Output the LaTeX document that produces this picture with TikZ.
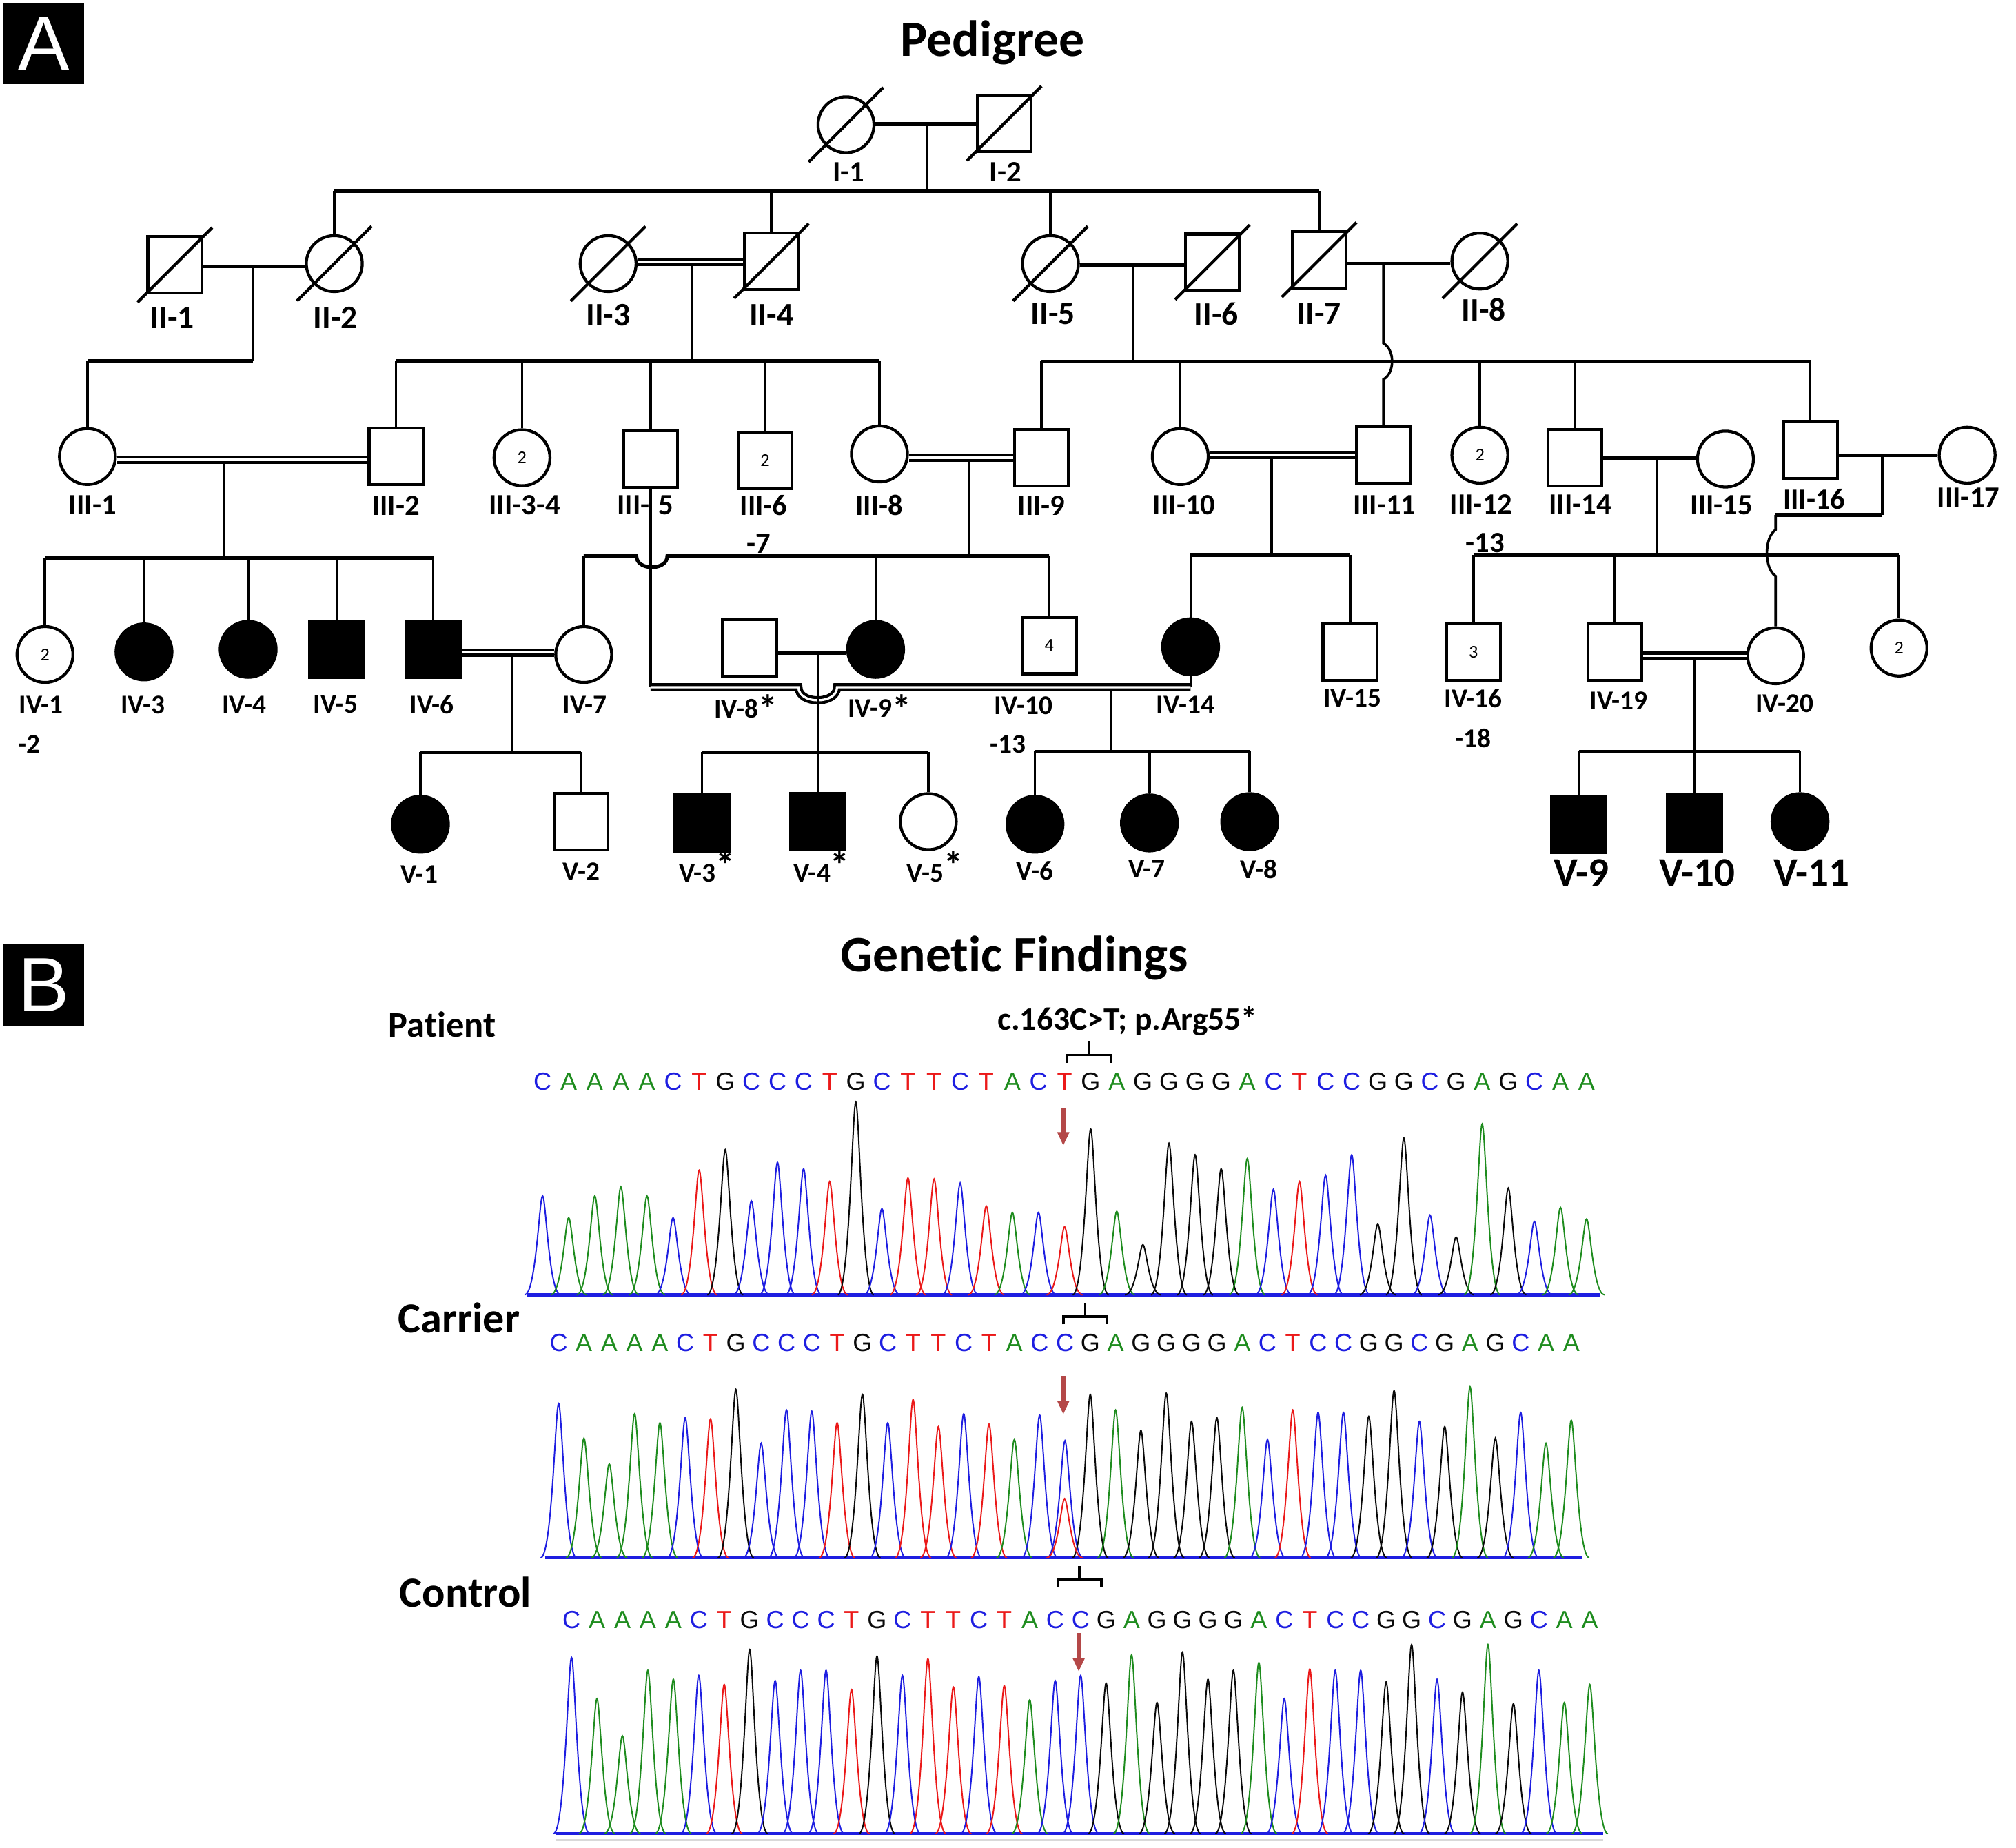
\documentclass[tikz,border=0pt]{standalone}
\usepackage{fontspec}
\setmainfont{Carlito}[Ligatures=NoCommon]
\newfontfamily\seqfont{Liberation Sans}
\usetikzlibrary{
%    positioning,
    arrows.meta
}
\definecolor{baseA}{RGB}{30,140,30}
\definecolor{baseC}{RGB}{30,30,225}
\definecolor{baseG}{RGB}{10,10,10}
\definecolor{baseT}{RGB}{235,25,25}
\definecolor{mutred}{RGB}{180,72,72}
\newcommand{\deceased}[1]{\draw[line width = 1.3pt] (#1.center) ++(-29, 29) -- ++(58, -58);}
\newcommand{\starmark}[1]{\smash{\raisebox{#1}{\fontsize{17}{17}\selectfont *}}}

\begin{document}
\begin{tikzpicture}
        [
            x = 0.02cm, y = -0.02cm,
            male/.style = {draw, rectangle, line width = 1.3pt, minimum width = 0.84cm, minimum height = 0.88cm, inner sep = 0pt, font = \fontsize{8}{8}\selectfont},
            female/.style = {draw, circle, line width = 1.3pt, minimum size = 0.87cm, inner sep = 0pt, font = \fontsize{8}{8}\selectfont},
            aff/.style = {fill = black},
            ln/.style = {line width = 1.1pt},
            hl/.style = {line width = 1.6pt},
            dbl/.style = {line width = 1.3pt, double = white, double distance = 1pt},
            labI/.style = {font = \bfseries\fontsize{13}{13}\selectfont, inner sep = 0pt},
            labII/.style = {font = \bfseries\fontsize{14.5}{14.5}\selectfont, inner sep = 0pt},
            labIII/.style = {font = \bfseries\fontsize{13}{13}\selectfont, inner sep = 0pt},
            labIV/.style = {font = \bfseries\fontsize{12}{12}\selectfont, inner sep = 0pt},
            labV/.style = {font = \bfseries\fontsize{18}{18}\selectfont, inner sep = 0pt},
            panel/.style = {fill = black, text = white, minimum size = 1.26cm, inner sep = 0pt, font = \seqfont\fontsize{34}{34}\selectfont},
            title/.style = {font = \bfseries\fontsize{22.5}{22.5}\selectfont, inner sep = 0pt},
            rowlab/.style = {font = \bfseries\fontsize{19}{19}\selectfont, inner sep = 0pt},
            seq/.style = {font = \seqfont\fontsize{11}{11}\selectfont, inner sep = 0pt},
            trace/.style = {line width = 0.6pt},
            trackline/.style = {draw = baseC, line width = 1.4pt},
            mut/.style = {draw = mutred, line width = 1.8pt, -{Triangle[length = 6pt, width = 5pt]}},
            brk/.style = {line width = 1.1pt}
        ]
        \fill[white] (0, 0) rectangle (1568, 1437);
        \useasboundingbox (0, 0) rectangle (1568, 1437);

        \node[panel] (pA) at (34, 34) {A};
        \node[panel] (pB) at (34, 766) {B};
        \node[title] (tA) at (772, 33) {Pedigree};
        \node[title] (tB) at (789, 745) {Genetic Findings};

        \node[female] (I1) at (658, 97) {};
        \node[male] (I2) at (781, 96) {};

        \node[male] (II1) at (136, 206) {};
        \node[female] (II2) at (260, 205) {};
        \node[female] (II3) at (473, 205) {};
        \node[male] (II4) at (600, 203) {};
        \node[female] (II5) at (817, 205) {};
        \node[male] (II6) at (943, 204) {};
        \node[male] (II7) at (1026, 202) {};
        \node[female] (II8) at (1151, 203) {};

        \node[female] (III1) at (68, 355) {};
        \node[male] (III2) at (308, 355) {};
        \node[female] (III34) at (406, 356) {2};
        \node[male] (III5) at (506, 357) {};
        \node[male] (III6) at (595, 358) {2};
        \node[female] (III8) at (684, 353) {};
        \node[male] (III9) at (810, 356) {};
        \node[female] (III10) at (918, 355) {};
        \node[male] (III11) at (1076, 354) {};
        \node[female] (III12) at (1151, 354) {2};
        \node[male] (III14) at (1225, 356) {};
        \node[female] (III15) at (1342, 357) {};
        \node[male] (III16) at (1408, 350) {};
        \node[female] (III17) at (1530, 354) {};

        \node[female] (IV1) at (35, 509) {2};
        \node[female, aff] (IV3) at (112, 507) {};
        \node[female, aff] (IV4) at (193, 505) {};
        \node[male, aff] (IV5) at (262, 505) {};
        \node[male, aff] (IV6) at (337, 505) {};
        \node[female] (IV7) at (454, 509) {};
        \node[male] (IV8) at (583, 504) {};
        \node[female, aff] (IV9) at (681, 505) {};
        \node[male] (IV10) at (816, 502) {4};
        \node[female, aff] (IV14) at (926, 503) {};
        \node[male] (IV15) at (1050, 507) {};
        \node[male] (IV16) at (1146, 507) {3};
        \node[male] (IV19) at (1256, 507) {};
        \node[female] (IV20) at (1381, 510) {};
        \node[female] (IVtwo) at (1477, 504) {2};

        \node[female, aff] (V1) at (327, 641) {};
        \node[male] (V2) at (452, 639) {};
        \node[male, aff] (V3) at (546, 640) {};
        \node[male, aff] (V4) at (636, 639) {};
        \node[female] (V5) at (722, 639) {};
        \node[female, aff] (V6) at (805, 641) {};
        \node[female, aff] (V7) at (894, 640) {};
        \node[female, aff] (V8) at (972, 639) {};
        \node[male, aff] (V9) at (1228, 641) {};
        \node[male, aff] (V10) at (1318, 640) {};
        \node[female, aff] (V11) at (1400, 639) {};

        \deceased{I1} \deceased{I2}
        \deceased{II1} \deceased{II2} \deceased{II3} \deceased{II4}
        \deceased{II5} \deceased{II6} \deceased{II7} \deceased{II8}

        \node[labI] (lI1) at (660, 134) {I-1};
        \node[labI] (lI2) at (782, 134) {I-2};
        \node[labII] (lII1) at (134, 247) {II-1};
        \node[labII] (lII2) at (261, 247) {II-2};
        \node[labII] (lII3) at (473, 245) {II-3};
        \node[labII] (lII4) at (600, 245) {II-4};
        \node[labII] (lII5) at (819, 244) {II-5};
        \node[labII] (lII6) at (946, 244) {II-6};
        \node[labII] (lII7) at (1026, 244) {II-7};
        \node[labII] (lII8) at (1154, 241) {II-8};
        \node[labIII] (lIII1) at (72, 393) {III-1};
        \node[labIII] (lIII2) at (308, 393) {III-2};
        \node[labIII] (lIII34) at (408, 393) {III-3-4};
        \node[labIII] (lIII5) at (502, 393) {III-\hspace{4pt}5};
        \node[labIII] (lIII6) at (594, 393) {III-6};
        \node[labIII] (lIII7) at (590, 423) {-7};
        \node[labIII] (lIII8) at (684, 393) {III-8};
        \node[labIII] (lIII9) at (810, 393) {III-9};
        \node[labIII] (lIII10) at (921, 393) {III-10};
        \node[labIII] (lIII11) at (1077, 393) {III-11};
        \node[labIII] (lIII12) at (1152, 392) {III-12};
        \node[labIII] (lIII13) at (1155, 422) {-13};
        \node[labIII] (lIII14) at (1229, 392) {III-14};
        \node[labIII] (lIII15) at (1339, 393) {III-15};
        \node[labIII] (lIII16) at (1411, 388) {III-16};
        \node[labIII] (lIII17) at (1531, 387) {III-17};
        \node[labIV] (lIV1) at (32, 548) {IV-1};
        \node[labIV] (lIV2) at (23, 579) {-2};
        \node[labIV] (lIV3) at (111, 548) {IV-3};
        \node[labIV] (lIV4) at (190, 548) {IV-4};
        \node[labIV] (lIV5) at (261, 548) {IV-5};
        \node[labIV] (lIV6) at (336, 548) {IV-6};
        \node[labIV] (lIV7) at (455, 548) {IV-7};
        \node[labIV] (lIV8) at (580, 551) {IV-8\starmark{-2pt}};
        \node[labIV] (lIV9) at (684, 551) {IV-9\starmark{-2pt}};
        \node[labIV] (lIV10) at (796, 549) {IV-10};
        \node[labIV] (lIV13) at (784, 579) {-13};
        \node[labIV] (lIV14) at (922, 548) {IV-14};
        \node[labIV] (lIV15) at (1052, 543) {IV-15};
        \node[labIV] (lIV16) at (1146, 543) {IV-16};
        \node[labIV] (lIV18) at (1146, 574) {-18};
        \node[labIV] (lIV19) at (1259, 545) {IV-19};
        \node[labIV] (lIV20) at (1388, 547) {IV-20};
        \node[labIV] (lV1) at (326, 680) {V-1};
        \node[labIV] (lV2) at (452, 678) {V-2};
        \node[labIV] (lV3) at (550, 679) {V-3\starmark{1.5pt}};
        \node[labIV] (lV4) at (639, 679) {V-4\starmark{1.5pt}};
        \node[labIV] (lV5) at (727, 679) {V-5\starmark{1.5pt}};
        \node[labIV] (lV6) at (805, 677) {V-6};
        \node[labIV] (lV7) at (892, 676) {V-7};
        \node[labIV] (lV8) at (979, 676) {V-8};
        \node[labV] (lV9) at (1230, 679) {V-9};
        \node[labV] (lV10) at (1320, 679) {V-10};
        \node[labV] (lV11) at (1409, 679) {V-11};

        \coordinate (mI) at (721, 96.5);
        \coordinate (sII) at (721, 148.5);
        \draw[hl] (I1.east |- mI) -- (I2.west |- mI);
        \draw[ln] (mI) -- (sII);
        \draw[hl] (II2.north |- sII) -- (II7.north |- sII);
        \foreach \kid in {II2, II4, II5, II7}
            \draw[ln] (\kid.north |- sII) -- (\kid.north);

        \coordinate (mIIa) at (196.5, 207);
        \coordinate (sIIIa) at (196.5, 280.5);
        \draw[hl] (II1.east |- mIIa) -- (II2.west |- mIIa);
        \draw[ln] (mIIa) -- (sIIIa);
        \draw[hl] (sIIIa) -- (III1.north |- sIIIa);
        \draw[ln] (III1.north |- sIIIa) -- (III1.north);

        \coordinate (mIIb) at (538, 204);
        \coordinate (sIIIb) at (538, 280.5);
        \draw[ln] (mIIb) -- (sIIIb);
        \draw[dbl] (II3.east |- mIIb) -- (II4.west |- mIIb);
        \draw[hl] (III2.north |- sIIIb) -- (III8.north |- sIIIb);
        \foreach \kid in {III2, III34, III5, III6, III8}
            \draw[ln] (\kid.north |- sIIIb) -- (\kid.north);

        \coordinate (mIIc) at (881, 206);
        \coordinate (sIIIc) at (881, 281);
        \draw[hl] (II5.east |- mIIc) -- (II6.west |- mIIc);
        \draw[ln] (mIIc) -- (sIIIc);
        \draw[hl] (III9.north |- sIIIc) -- (III16.north |- sIIIc);
        \foreach \kid in {III9, III10, III12, III14, III16}
            \draw[ln] (\kid.north |- sIIIc) -- (\kid.north);

        \coordinate (mIId) at (1076, 205);
        \draw[hl] (II7.east |- mIId) -- (II8.west |- mIId);
        \draw[ln] (mIId) -- (1076, 267) .. controls (1085, 272) and (1085, 290) .. (1076, 295) -- (III11.north);

        \coordinate (mIIIa) at (174.5, 357.5);
        \coordinate (sIVa) at (174.5, 434);
        \draw[ln] (mIIIa) -- (sIVa);
        \draw[dbl] (III1.east |- mIIIa) -- (III2.west |- mIIIa);
        \draw[hl] (IV1.north |- sIVa) -- (IV6.north |- sIVa);
        \foreach \kid in {IV1, IV3, IV4, IV5, IV6}
            \draw[ln] (\kid.north |- sIVa) -- (\kid.north);

        \coordinate (mIIIb) at (754, 356);
        \coordinate (sIVb) at (754, 432.5);
        \draw[ln] (mIIIb) -- (sIVb);
        \draw[dbl] (III8.east |- mIIIb) -- (III9.west |- mIIIb);
        \draw[hl] (IV7.north |- sIVb) -- (495, 432.5) .. controls (495, 444) and (519, 444) .. (519, 432.5) -- (IV10.north |- sIVb);
        \foreach \kid in {IV7, IV9, IV10}
            \draw[ln] (\kid.north |- sIVb) -- (\kid.north);

        \coordinate (mIIIc) at (989, 354);
        \coordinate (sIVc) at (989, 431.5);
        \draw[ln] (mIIIc) -- (sIVc);
        \draw[dbl] (III10.east |- mIIIc) -- (III11.west |- mIIIc);
        \draw[hl] (IV14.north |- sIVc) -- (IV15.north |- sIVc);
        \foreach \kid in {IV14, IV15}
            \draw[ln] (\kid.north |- sIVc) -- (\kid.north);

        \coordinate (mIIId) at (1289, 356.5);
        \coordinate (sIVd) at (1289, 431.5);
        \draw[hl] (III14.east |- mIIId) -- (III15.west |- mIIId);
        \draw[ln] (mIIId) -- (sIVd);
        \draw[hl] (IV16.north |- sIVd) -- (IVtwo.north |- sIVd);
        \foreach \kid in {IV16, IV19, IVtwo}
            \draw[ln] (\kid.north |- sIVd) -- (\kid.north);

        \coordinate (mIIIe) at (1464, 354);
        \coordinate (jIIIe) at (1464, 400.5);
        \draw[hl] (III16.east |- mIIIe) -- (III17.west |- mIIIe);
        \draw[ln] (mIIIe) -- (jIIIe);
        \draw[hl] (jIIIe) -- (IV20.north |- jIIIe);
        \draw[ln] (IV20.north |- jIIIe) -- (1381, 412) .. controls (1372, 418) and (1372, 442) .. (1381, 448) -- (IV20.north);

        \coordinate (mIVa) at (506, 534.5);
        \coordinate (mIVb) at (926, 534.5);
        \coordinate (dIVb) at (864, 534.5);
        \coordinate (sVc) at (864, 584.5);
        \draw[ln] (III5.south) -- (mIVa);
        \draw[ln] (IV14.south) -- (mIVb);
        \draw[ln] (dIVb) -- (sVc);
        \draw[dbl] (mIVa) -- (621, 534.5) .. controls (621, 548) and (651, 548) .. (651, 534.5) -- (mIVb);
        \draw[hl] (V6.north |- sVc) -- (V8.north |- sVc);
        \foreach \kid in {V6, V7, V8}
            \draw[ln] (\kid.north |- sVc) -- (\kid.north);

        \coordinate (mIVc) at (636, 508);
        \coordinate (sVb) at (636, 585);
        \draw[hl] (IV8.east |- mIVc) -- (IV9.west |- mIVc);
        \draw[ln] (mIVc) -- (sVb);
        \draw[hl] (V3.north |- sVb) -- (V5.north |- sVb);
        \foreach \kid in {V3, V4, V5}
            \draw[ln] (\kid.north |- sVb) -- (\kid.north);

        \coordinate (mIVd) at (398, 507.5);
        \coordinate (sVa) at (398, 585);
        \draw[ln] (mIVd) -- (sVa);
        \draw[dbl] (IV6.east |- mIVd) -- (IV7.west |- mIVd);
        \draw[hl] (V1.north |- sVa) -- (V2.north |- sVa);
        \foreach \kid in {V1, V2}
            \draw[ln] (\kid.north |- sVa) -- (\kid.north);

        \coordinate (mIVe) at (1318, 510);
        \coordinate (sVd) at (1318, 584.5);
        \draw[ln] (mIVe) -- (sVd);
        \draw[dbl] (IV19.east |- mIVe) -- (IV20.west |- mIVe);
        \draw[hl] (V9.north |- sVd) -- (V11.north |- sVd);
        \foreach \kid in {V9, V10, V11}
            \draw[ln] (\kid.north |- sVd) -- (\kid.north);

        \node[rowlab, font = \bfseries\fontsize{16}{16}\selectfont] (rP) at (344, 797) {Patient};
        \node[rowlab] (rC) at (357, 1025) {Carrier};
        \node[rowlab] (rK) at (362, 1238) {Control};
        \node[rowlab, font = \bfseries\fontsize{14.5}{14.5}\selectfont] (hgvs) at (877, 794) {c.163C>T; p.Arg55*};

        \coordinate (bP) at (847, 820.5);
        \draw[brk] (bP) ++(-17, 6) -- ++(0, -6) -- ++(34, 0) -- ++(0, 6) (bP) -- ++(0, -11);
        \coordinate (bC) at (844, 1024);
        \draw[brk] (bC) ++(-17, 6) -- ++(0, -6) -- ++(34, 0) -- ++(0, 6) (bC) -- ++(0, -11);
        \coordinate (bK) at (839.5, 1228.5);
        \draw[brk] (bK) ++(-17, 6) -- ++(0, -6) -- ++(34, 0) -- ++(0, 6) (bK) -- ++(0, -10.5);

        \def\xa{422} \def\dx{20.3} \def\ya{1007}
        \foreach \nt [count=\i] in {C,A,A,A,A,C,T,G,C,C,C,T,G,C,T,T,C,T,A,C,T,G,A,G,G,G,G,A,C,T,C,C,G,G,C,G,A,G,C,A,A}
            \node[seq, text = base\nt] (sP\i) at ({\xa + (\i - 1)*\dx}, 841) {\nt};
        \draw[trackline] (410, \ya) -- (1244, \ya);
        \foreach \nt/\pk [count=\i] in {C/77, A/60, A/77, A/84, A/77, C/60, T/97, G/113, C/73, C/103, C/98, T/88, G/150, C/67, T/91, T/90, C/87, T/69, A/64, C/64, T/53, G/129, A/65, G/39, G/118, G/109, G/98, A/106, C/82, T/88, C/93, C/109, G/55, G/122, C/62, G/45, A/133, G/83, C/57, A/68, A/59}
        {
            \pgfmathsetmacro{\px}{\xa + (\i - 1)*\dx}
            \draw[trace, draw = base\nt] ({\px - 14}, \ya) .. controls ({\px - 5}, \ya) and ({\px - 2.5}, {\ya - \pk}) .. (\px, {\ya - \pk}) .. controls ({\px + 2.5}, {\ya - \pk}) and ({\px + 5}, \ya) .. ({\px + 14}, \ya);
        }
        \coordinate (aP0) at (827, 862);
        \coordinate (aP1) at (827, 891);
        \draw[mut] (aP0) -- (aP1);

        \def\xa{434.5} \def\dx{19.69} \def\ya{1211.5}
        \foreach \nt [count=\i] in {C,A,A,A,A,C,T,G,C,C,C,T,G,C,T,T,C,T,A,C,C,G,A,G,G,G,G,A,C,T,C,C,G,G,C,G,A,G,C,A,A}
            \node[seq, text = base\nt] (sC\i) at ({\xa + (\i - 1)*\dx}, 1044.5) {\nt};
        \draw[trackline] (424, \ya) -- (1231, \ya);
        \foreach \nt/\pk [count=\i] in {C/120, A/93, A/73, A/112, A/105, C/109, T/108, G/131, C/89, C/115, C/114, T/105, G/127, C/105, T/123, T/102, C/112, T/104, A/92, C/111, C/91, G/127, A/115, G/99, G/128, G/106, G/109, A/117, C/92, T/115, C/113, C/113, G/110, G/130, C/106, G/102, A/133, G/93, C/113, A/89, A/107}
        {
            \pgfmathsetmacro{\px}{\xa + (\i - 1)*\dx}
            \draw[trace, draw = base\nt] ({\px - 14}, \ya) .. controls ({\px - 5}, \ya) and ({\px - 2.5}, {\ya - \pk}) .. (\px, {\ya - \pk}) .. controls ({\px + 2.5}, {\ya - \pk}) and ({\px + 5}, \ya) .. ({\px + 14}, \ya);
        }
        \draw[trace, draw = baseT] (814, \ya) .. controls (823, \ya) and (825.5, 1165.5) .. (828, 1165.5) .. controls (830.5, 1165.5) and (833, \ya) .. (842, \ya);
        \coordinate (aC0) at (827, 1070);
        \coordinate (aC1) at (827, 1100);
        \draw[mut] (aC0) -- (aC1);

        \def\xa{444.5} \def\dx{19.8} \def\ya{1426}
        \foreach \nt [count=\i] in {C,A,A,A,A,C,T,G,C,C,C,T,G,C,T,T,C,T,A,C,C,G,A,G,G,G,G,A,C,T,C,C,G,G,C,G,A,G,C,A,A}
            \node[seq, text = base\nt] (sK\i) at ({\xa + (\i - 1)*\dx}, 1260) {\nt};
        \draw[gray!30, line width = 1pt] (432, 1431) -- (1247, 1431);
        \draw[trackline] (432, \ya) -- (1247, \ya);
        \foreach \nt/\pk [count=\i] in {C/137, A/105, A/76, A/127, A/120, C/123, T/116, G/143, C/119, C/127, C/127, T/112, G/138, C/123, T/136, T/114, C/122, T/115, A/104, C/119, C/123, G/117, A/139, G/102, G/141, G/120, G/127, A/133, C/105, T/128, C/127, C/127, G/118, G/147, C/120, G/110, A/147, G/101, C/127, A/102, A/116}
        {
            \pgfmathsetmacro{\px}{\xa + (\i - 1)*\dx}
            \draw[trace, draw = base\nt] ({\px - 14}, \ya) .. controls ({\px - 5}, \ya) and ({\px - 2.5}, {\ya - \pk}) .. (\px, {\ya - \pk}) .. controls ({\px + 2.5}, {\ya - \pk}) and ({\px + 5}, \ya) .. ({\px + 14}, \ya);
        }
        \coordinate (aK0) at (839, 1270);
        \coordinate (aK1) at (839, 1300);
        \draw[mut] (aK0) -- (aK1);
    \end{tikzpicture}
\end{document}
